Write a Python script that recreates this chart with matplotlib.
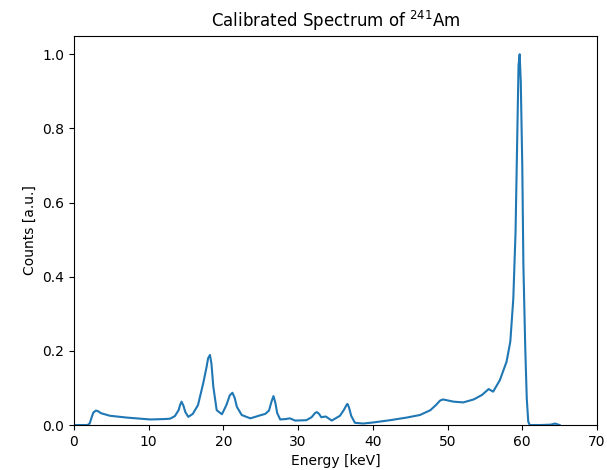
import numpy as np
import matplotlib.pyplot as plt

# energy [keV] and normalised counts
energy = [0.0, 1.0, 1.8, 2.1, 2.35, 2.6, 2.95, 3.25, 3.6, 4.8, 7.1, 10.2, 12.0, 12.85, 13.5, 14.0,
          14.2, 14.4, 14.65, 14.9, 15.3, 15.9, 16.6, 17.3, 17.75, 17.95, 18.2, 18.4, 18.65,
          19.1, 19.8, 20.4, 20.85, 21.2, 21.5, 21.8, 22.45, 23.6, 24.9, 25.6, 26.1, 26.45,
          26.7, 26.95, 27.2, 27.6, 28.3, 28.9, 29.6, 31.1, 31.8, 32.25, 32.5, 32.8, 33.1,
          33.7, 34.5, 35.6, 36.1, 36.45, 36.6, 36.8, 37.1, 37.6, 38.7, 40.1, 42.3, 44.5,
          46.3, 47.7, 48.5, 49.0, 49.4, 50.8, 52.1, 53.5, 54.6, 55.5, 56.1, 57.0, 57.9,
          58.4, 58.8, 59.1, 59.3, 59.5, 59.65, 59.8, 60.0, 60.15, 60.4, 60.6, 60.8, 61.0,
          62.5, 63.8, 64.4, 65.0]
counts = [0.0, 0.0, 0.0, 0.004, 0.020, 0.034, 0.039, 0.037, 0.032, 0.025, 0.020, 0.015, 0.016, 0.017, 0.024, 0.040,
          0.054, 0.063, 0.052, 0.035, 0.022, 0.030, 0.054, 0.113, 0.157, 0.180, 0.189, 0.165, 0.103,
          0.040, 0.029, 0.054, 0.080, 0.087, 0.074, 0.049, 0.027, 0.018, 0.026, 0.030, 0.039, 0.064,
          0.078, 0.060, 0.032, 0.015, 0.016, 0.018, 0.012, 0.013, 0.021, 0.032, 0.035, 0.030, 0.021,
          0.023, 0.012, 0.025, 0.040, 0.053, 0.057, 0.048, 0.025, 0.006, 0.004, 0.007, 0.013, 0.020,
          0.027, 0.040, 0.055, 0.066, 0.069, 0.063, 0.061, 0.069, 0.081, 0.097, 0.090, 0.121, 0.171,
          0.225, 0.341, 0.521, 0.746, 0.970, 1.0, 0.925, 0.701, 0.431, 0.207, 0.072, 0.009, 0.0,
          0.0, 0.001, 0.004, 0.0]

fig = plt.figure(figsize=(6.07, 4.70), dpi=100)
ax = fig.add_axes([0.1219, 0.0957, 0.8616, 0.8283])

ax.plot(energy, counts, color='C0', lw=1.5)
ax.set_xlim(0, 70)
ax.set_ylim(0, 1.05)

ax.set_title('Calibrated Spectrum of $^{241}$Am')
ax.set_xlabel('Energy [keV]')
ax.set_ylabel('Counts [a.u.]')

fig.savefig('out.png', dpi=100)
